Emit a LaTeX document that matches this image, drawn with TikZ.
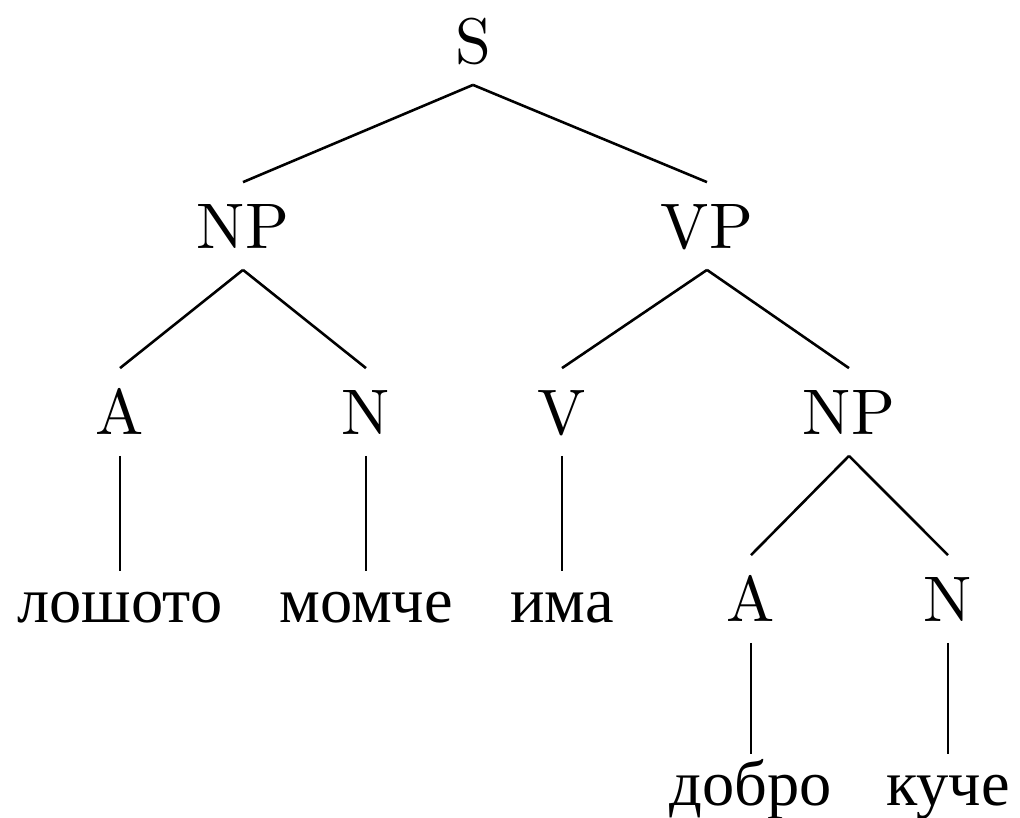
\documentclass[tikz,border=0pt]{standalone}
\usepackage{fontspec}
\newfontfamily\cyrfont{Liberation Serif}
\tikzset{
  cat/.style={anchor=base, inner xsep=0pt, inner ysep=3.2pt, text height=6.83pt, text depth=0pt},
  word/.style={anchor=base, inner xsep=0pt, inner ysep=3.2pt, text height=4.56pt, text depth=0pt, font=\cyrfont},
  edge/.style={line width=0.4pt}
}
\begin{document}
\begin{tikzpicture}[x=0.15528pt, y=-0.15528pt]
\useasboundingbox (0,0) rectangle (1020,818);
\node[cat] (S) at (473,63) {S};
\node[cat] (NP1) at (243,248) {NP};
\node[cat] (VP) at (707,248) {VP};
\node[cat] (A1) at (120,434) {A};
\node[cat] (N1) at (366,434) {N};
\node[cat] (V) at (562,434) {V};
\node[cat] (NP2) at (849,434) {NP};
\node[word] (w1) at (120,622) {лошото};
\node[word] (w2) at (366,622) {момче};
\node[word] (w3) at (562,622) {има};
\node[cat] (A2) at (751,621) {A};
\node[cat] (N2) at (948,621) {N};
\node[word] (w4) at (751,805) {добро};
\node[word] (w5) at (948,805) {куче};
\draw[edge] (S.south) -- (NP1.north);
\draw[edge] (S.south) -- (VP.north);
\draw[edge] (NP1.south) -- (A1.north);
\draw[edge] (NP1.south) -- (N1.north);
\draw[edge] (VP.south) -- (V.north);
\draw[edge] (VP.south) -- (NP2.north);
\draw[edge] (A1.south) -- (w1.north);
\draw[edge] (N1.south) -- (w2.north);
\draw[edge] (V.south) -- (w3.north);
\draw[edge] (NP2.south) -- (A2.north);
\draw[edge] (NP2.south) -- (N2.north);
\draw[edge] (A2.south) -- (w4.north);
\draw[edge] (N2.south) -- (w5.north);
\end{tikzpicture}
\end{document}
